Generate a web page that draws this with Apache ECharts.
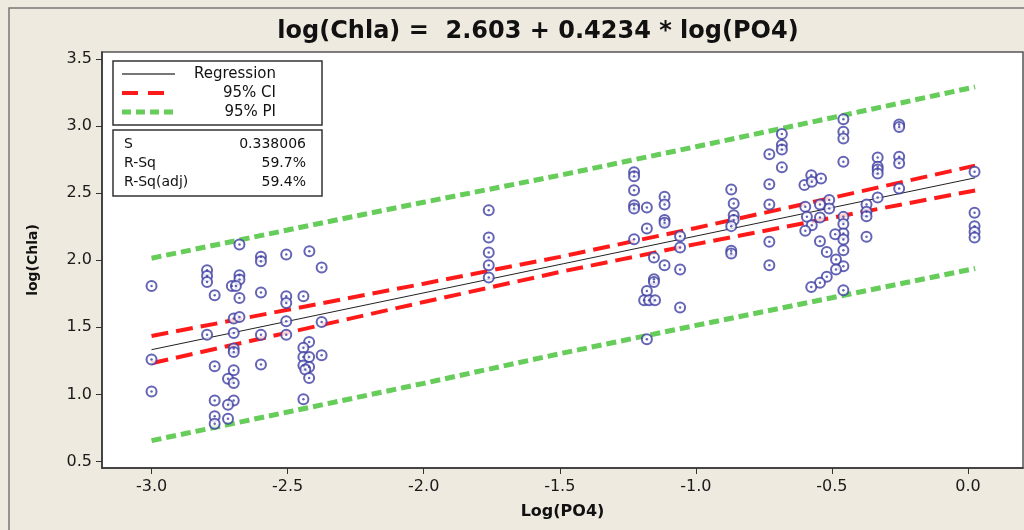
<!DOCTYPE html>
<html>
<head>
<meta charset="utf-8">
<script src="https://cdn.jsdelivr.net/npm/echarts@6/dist/echarts.min.js"></script>
<style>
  html, body { margin: 0; padding: 0; background: #efeadf; }
  #chart { width: 1024px; height: 530px; }
</style>
</head>
<body>
<div id="chart"></div>
<script>
// scatter points: log(PO4), log(Chla)
var poX = [
  -3.0, -3.0, -3.0, -2.677, -2.796, -2.796, -2.796, -2.677, -2.677, -2.705, -2.69,
  -2.768, -2.677, -2.598, -2.598, -2.505, -2.420, -2.375, -2.598, -2.505, -2.505,
  -2.442, -2.698, -2.677, -2.505, -2.375, -2.796, -2.698, -2.598, -2.505, -2.698,
  -2.698, -2.421, -2.442, -2.442, -2.421, -2.375, -2.442, -2.421, -2.435, -2.421,
  -2.768, -2.598, -2.698, -2.719, -2.698, -2.768, -2.698, -2.719, -2.442, -2.768,
  -2.768, -2.719,
  -1.761, -1.761, -1.761, -1.761, -1.761,
  -1.227, -1.227, -1.227, -1.227, -1.227, -1.180, -1.115, -1.115, -1.115, -1.115,
  -1.180, -1.227, -1.058, -1.058, -1.154, -1.115, -1.058, -1.154, -1.154, -1.180,
  -1.190, -1.172, -1.150, -1.058, -1.180,
  -0.870, -0.861, -0.861, -0.861, -0.870, -0.870, -0.870,
  -0.458, -0.458, -0.458, -0.253, -0.253, -0.684, -0.684, -0.684, -0.730, -0.684,
  -0.458, -0.332, -0.332, -0.332, -0.332, -0.253, -0.253, 0.024, -0.576, -0.540,
  -0.601, -0.574, -0.730, -0.253, -0.730, -0.510, -0.510, -0.544, -0.598, -0.592,
  -0.544, -0.458, -0.458, -0.373, -0.373, -0.373, -0.332, -0.574, -0.598, -0.458,
  -0.488, -0.373, -0.458, -0.730, -0.544, -0.519, -0.458, -0.485, -0.458, -0.485,
  -0.730, -0.519, -0.544, -0.576, -0.458, 0.024, 0.024, 0.024, 0.024
];
var chlaY = [
  1.808, 1.259, 1.022, 2.117, 1.925, 1.883, 1.838, 1.888, 1.856, 1.808, 1.808,
  1.739, 1.719, 2.025, 1.993, 2.042, 2.067, 1.945, 1.759, 1.731, 1.681,
  1.731, 1.565, 1.577, 1.545, 1.540, 1.445, 1.457, 1.445, 1.445, 1.341,
  1.316, 1.390, 1.348, 1.278, 1.278, 1.291, 1.216, 1.204, 1.185, 1.122,
  1.209, 1.222, 1.179, 1.117, 1.084, 0.955, 0.955, 0.923, 0.963, 0.836,
  0.781, 0.819,
  2.373, 2.169, 2.057, 1.963, 1.871,
  2.655, 2.625, 2.522, 2.410, 2.386, 2.393, 2.473, 2.416, 2.299, 2.279,
  2.237, 2.157, 2.179, 2.095, 2.020, 1.963, 1.930, 1.858, 1.838, 1.771,
  1.701, 1.701, 1.701, 1.647, 1.410,
  2.527, 2.423, 2.336, 2.299, 2.254, 2.070, 2.050,
  3.050, 2.957, 2.908, 3.012, 2.992, 2.940, 2.858, 2.826, 2.789, 2.692,
  2.734, 2.766, 2.696, 2.677, 2.647, 2.771, 2.722, 2.659, 2.634, 2.609,
  2.560, 2.584, 2.567, 2.535, 2.416, 2.448, 2.386, 2.416, 2.399, 2.323,
  2.318, 2.323, 2.269, 2.416, 2.361, 2.328, 2.468, 2.261, 2.219, 2.199,
  2.194, 2.174, 2.154, 2.137, 2.142, 2.062, 2.075, 2.005, 1.955, 1.930,
  1.963, 1.876, 1.831, 1.801, 1.776, 2.353, 2.254, 2.211, 2.169
];

// fitted line end points and band curves, read at these x positions
var regX = [-3.0, 0.026];
var regY = [1.333, 2.614];
var bandX = [-3.0, -2.5, -2.0, -1.5, -1.0, -0.5, 0.026];
var ciUpper = [1.435, 1.630, 1.825, 2.025, 2.240, 2.465, 2.705];
var ciLower = [1.232, 1.460, 1.688, 1.912, 2.120, 2.316, 2.520];
var piUpper = [2.015, 2.225, 2.432, 2.633, 2.846, 3.062, 3.292];
var piLower = [0.655, 0.868, 1.082, 1.303, 1.514, 1.720, 1.938];

var xTicks = [-3.0, -2.5, -2.0, -1.5, -1.0, -0.5, 0.0];
var yTicks = [0.5, 1.0, 1.5, 2.0, 2.5, 3.0, 3.5];

function pairs(xs, ys) {
  var out = [];
  for (var i = 0; i < xs.length; i++) out.push([xs[i], ys[i]]);
  return out;
}

var points = pairs(poX, chlaY);
var dotColor = '#3d3da2';
var ciStyle = { color: '#ff1a1a', width: 4, type: [17, 8] };
var piStyle = { color: '#66cc5a', width: 5, type: [10, 5] };
var font = 'DejaVu Sans, Verdana, sans-serif';

var chart = echarts.init(document.getElementById('chart'));
chart.setOption({
  backgroundColor: '#efeadf',
  animation: false,
  title: {
    text: 'log(Chla) =  2.603 + 0.4234 * log(PO4)',
    left: 533, top: 15, textAlign: 'center',
    textStyle: { fontFamily: font, fontWeight: 'bold', fontSize: 24, color: '#111' }
  },
  grid: {
    left: 102, top: 52, right: 1, bottom: 62,
    show: true, backgroundColor: '#fff', borderColor: '#555', borderWidth: 1.5
  },
  xAxis: {
    type: 'value', min: -3.182, max: 0.202,
    name: 'Log(PO4)', nameLocation: 'middle', nameGap: 36,
    nameTextStyle: { fontFamily: font, fontWeight: 'bold', fontSize: 16, color: '#111' },
    splitLine: { show: false },
    axisLine: { onZero: false, lineStyle: { color: '#333', width: 1.5 } },
    axisTick: { length: 6, customValues: xTicks, lineStyle: { color: '#333' } },
    axisLabel: { customValues: xTicks, margin: 11, fontFamily: font, fontSize: 16, color: '#1a1a1a',
      formatter: function (v) { return v.toFixed(1); } }
  },
  yAxis: {
    type: 'value', min: 0.451, max: 3.552,
    name: 'log(Chla)', nameLocation: 'middle', nameGap: 62,
    nameTextStyle: { fontFamily: font, fontWeight: 'bold', fontSize: 14, color: '#111' },
    splitLine: { show: false },
    axisLine: { onZero: false, lineStyle: { color: '#333', width: 1.5 } },
    axisTick: { length: 6, customValues: yTicks, lineStyle: { color: '#333' } },
    axisLabel: { customValues: yTicks, margin: 10, fontFamily: font, fontSize: 16, color: '#1a1a1a',
      formatter: function (v) { return v.toFixed(1); } }
  },
  series: [
    { type: 'line', data: pairs(bandX, piUpper), showSymbol: false, lineStyle: piStyle, z: 2 },
    { type: 'line', data: pairs(bandX, piLower), showSymbol: false, lineStyle: piStyle, z: 2 },
    { type: 'line', data: pairs(bandX, ciUpper), showSymbol: false, lineStyle: ciStyle, z: 3 },
    { type: 'line', data: pairs(bandX, ciLower), showSymbol: false, lineStyle: ciStyle, z: 3 },
    { type: 'line', data: pairs(regX, regY), showSymbol: false, lineStyle: { color: '#222', width: 1 }, z: 4 },
    { type: 'scatter', data: points, symbol: 'emptyCircle', symbolSize: 10,
      itemStyle: { color: dotColor, borderColor: dotColor, borderWidth: 1.7 }, z: 5 },
    { type: 'scatter', data: points, symbol: 'circle', symbolSize: 2.5,
      itemStyle: { color: dotColor }, z: 6 }
  ],
  graphic: [
    { type: 'rect', shape: { x: 9, y: 8, width: 1030, height: 540 }, silent: true,
      style: { fill: null, stroke: '#777', lineWidth: 1.5 }, z: 1 },
    // legend box
    { type: 'rect', shape: { x: 113, y: 61, width: 209, height: 64 },
      style: { fill: '#fff', stroke: '#333', lineWidth: 1.5 }, z: 10 },
    { type: 'line', shape: { x1: 122, y1: 74, x2: 175, y2: 74 },
      style: { stroke: '#777', lineWidth: 2 }, z: 11 },
    { type: 'line', shape: { x1: 122, y1: 93, x2: 170, y2: 93 },
      style: { stroke: '#ff1a1a', lineWidth: 4, lineDash: [16, 10] }, z: 11 },
    { type: 'line', shape: { x1: 122, y1: 112, x2: 175, y2: 112 },
      style: { stroke: '#66cc5a', lineWidth: 5, lineDash: [9, 5] }, z: 11 },
    { type: 'text', x: 276, y: 74, z: 11,
      style: { text: 'Regression', font: '15px ' + font, fill: '#111', align: 'right', verticalAlign: 'middle' } },
    { type: 'text', x: 276, y: 93, z: 11,
      style: { text: '95% CI', font: '15px ' + font, fill: '#111', align: 'right', verticalAlign: 'middle' } },
    { type: 'text', x: 276, y: 112, z: 11,
      style: { text: '95% PI', font: '15px ' + font, fill: '#111', align: 'right', verticalAlign: 'middle' } },
    // stats box
    { type: 'rect', shape: { x: 113, y: 130, width: 209, height: 66 },
      style: { fill: '#fff', stroke: '#333', lineWidth: 1.5 }, z: 10 },
    { type: 'text', x: 124, y: 144, z: 11,
      style: { text: 'S', font: '14px ' + font, fill: '#111', verticalAlign: 'middle' } },
    { type: 'text', x: 124, y: 163, z: 11,
      style: { text: 'R-Sq', font: '14px ' + font, fill: '#111', verticalAlign: 'middle' } },
    { type: 'text', x: 124, y: 182, z: 11,
      style: { text: 'R-Sq(adj)', font: '14px ' + font, fill: '#111', verticalAlign: 'middle' } },
    { type: 'text', x: 306, y: 144, z: 11,
      style: { text: '0.338006', font: '14px ' + font, fill: '#111', align: 'right', verticalAlign: 'middle' } },
    { type: 'text', x: 306, y: 163, z: 11,
      style: { text: '59.7%', font: '14px ' + font, fill: '#111', align: 'right', verticalAlign: 'middle' } },
    { type: 'text', x: 306, y: 182, z: 11,
      style: { text: '59.4%', font: '14px ' + font, fill: '#111', align: 'right', verticalAlign: 'middle' } }
  ]
});
</script>
</body>
</html>
